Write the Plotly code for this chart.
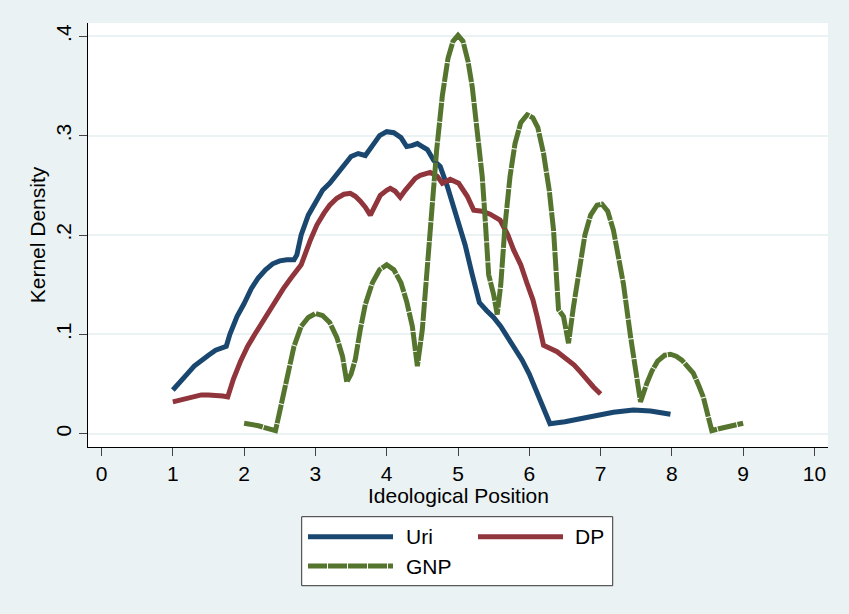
import plotly.graph_objects as go

# ---------------- data ----------------
uri_x = [1.00, 1.10, 1.20, 1.30, 1.40, 1.50, 1.60, 1.70, 1.75, 1.80, 1.90, 2.00, 2.10, 2.20, 2.30,
         2.40, 2.50, 2.60, 2.70, 2.74, 2.80, 2.90, 3.00, 3.10, 3.20, 3.30, 3.40, 3.50, 3.60, 3.70,
         3.80, 3.90, 4.00, 4.10, 4.20, 4.28, 4.35, 4.43, 4.50, 4.57, 4.66, 4.75, 4.85, 4.94, 5.00,
         5.10, 5.20, 5.30, 5.40, 5.50, 5.60, 5.70, 5.80, 5.90, 6.00, 6.10, 6.20, 6.29, 6.50, 6.76,
         6.95, 7.18, 7.46, 7.70, 7.98]
uri_y = [0.044, 0.053, 0.060, 0.068, 0.074, 0.079, 0.084, 0.087, 0.088, 0.100, 0.118, 0.131, 0.146, 0.157, 0.165,
         0.171, 0.174, 0.175, 0.175, 0.180, 0.200, 0.220, 0.233, 0.245, 0.252, 0.261, 0.271, 0.279, 0.282, 0.280,
         0.290, 0.300, 0.304, 0.303, 0.298, 0.289, 0.290, 0.292, 0.289, 0.286, 0.275, 0.269, 0.249, 0.228, 0.215,
         0.190, 0.160, 0.132, 0.124, 0.117, 0.108, 0.097, 0.086, 0.074, 0.060, 0.043, 0.025, 0.010, 0.012, 0.0155,
         0.0188, 0.0215, 0.0239, 0.0229, 0.0195]

dp_x = [1.00, 1.10, 1.20, 1.30, 1.40, 1.50, 1.60, 1.70, 1.77, 1.85, 1.95, 2.05, 2.15, 2.25, 2.35,
        2.45, 2.55, 2.65, 2.74, 2.80, 2.93, 3.02, 3.12, 3.20, 3.30, 3.40, 3.49, 3.56, 3.63, 3.70,
        3.77, 3.84, 3.91, 4.00, 4.05, 4.12, 4.19, 4.26, 4.33, 4.40, 4.47, 4.54, 4.61, 4.71, 4.78,
        4.89, 5.01, 5.13, 5.22, 5.34, 5.45, 5.59, 5.70, 5.78, 5.88, 5.97, 6.05, 6.11, 6.20, 6.39,
        6.50, 6.63, 6.72, 6.81, 6.90, 7.00]
dp_y = [0.032, 0.034, 0.036, 0.038, 0.039, 0.039, 0.039, 0.038, 0.037, 0.055, 0.073, 0.088, 0.100, 0.112, 0.124,
        0.135, 0.146, 0.156, 0.164, 0.170, 0.195, 0.210, 0.222, 0.230, 0.237, 0.241, 0.242, 0.239, 0.234, 0.228,
        0.220, 0.231, 0.240, 0.245, 0.247, 0.244, 0.238, 0.245, 0.252, 0.257, 0.260, 0.262, 0.263, 0.259, 0.252,
        0.256, 0.252, 0.239, 0.225, 0.224, 0.221, 0.215, 0.200, 0.185, 0.170, 0.151, 0.135, 0.118, 0.089, 0.0825,
        0.076, 0.069, 0.062, 0.054, 0.047, 0.040]

gnp_x = [2.00, 2.20, 2.44, 2.52, 2.60, 2.70, 2.80, 2.90, 3.00, 3.10, 3.20, 3.30, 3.38, 3.44, 3.50,
         3.56, 3.63, 3.70, 3.80, 3.90, 4.00, 4.10, 4.20, 4.28, 4.36, 4.43, 4.50, 4.56, 4.62, 4.70,
         4.78, 4.86, 4.93, 5.00, 5.07, 5.14, 5.20, 5.27, 5.34, 5.38, 5.43, 5.50, 5.55, 5.60, 5.66,
         5.73, 5.80, 5.88, 5.97, 6.05, 6.12, 6.20, 6.28, 6.34, 6.41, 6.48, 6.55, 6.62, 6.70, 6.78,
         6.86, 6.95, 7.02, 7.10, 7.18, 7.25, 7.32, 7.42, 7.51, 7.56, 7.65, 7.72, 7.80, 7.90, 7.98,
         8.06, 8.14, 8.22, 8.30, 8.38, 8.44, 8.50, 8.56, 8.66, 8.77, 8.88, 9.00]
gnp_y = [0.0105, 0.008, 0.003, 0.030, 0.058, 0.088, 0.108, 0.117, 0.121, 0.119, 0.112, 0.097, 0.078, 0.052, 0.060,
         0.075, 0.105, 0.130, 0.152, 0.165, 0.170, 0.165, 0.152, 0.133, 0.108, 0.068, 0.105, 0.160, 0.222, 0.285,
         0.340, 0.378, 0.395, 0.401, 0.395, 0.375, 0.349, 0.306, 0.259, 0.217, 0.160, 0.140, 0.120, 0.150, 0.210,
         0.259, 0.292, 0.313, 0.321, 0.318, 0.308, 0.282, 0.245, 0.205, 0.125, 0.118, 0.091, 0.128, 0.168, 0.200,
         0.220, 0.230, 0.231, 0.224, 0.205, 0.178, 0.151, 0.098, 0.051, 0.032, 0.051, 0.063, 0.073, 0.079, 0.080,
         0.078, 0.074, 0.068, 0.061, 0.048, 0.037, 0.020, 0.003, 0.005, 0.007, 0.009, 0.0105]

series_names = ["Uri", "DP", "GNP"]
x_ticks = [0, 1, 2, 3, 4, 5, 6, 7, 8, 9, 10]
y_ticks = [0, 0.1, 0.2, 0.3, 0.4]
y_tick_labels = ["0", ".1", ".2", ".3", ".4"]
x_title = "Ideological Position"
y_title = "Kernel Density"

# ---------------- styling ----------------
W, H = 849, 614
ML, MR, MT, MB = 88, 21, 23, 167
FONT = "Liberation Sans, Arial, sans-serif"
BG = "#EAF2F3"
C_URI, C_DP, C_GNP = "#1A476F", "#90353B", "#55752F"
GNP_DASH = "19px,1px"
LW = 5

fig = go.Figure()
fig.add_trace(go.Scatter(x=uri_x, y=uri_y, mode="lines", name=series_names[0],
                         line=dict(color=C_URI, width=LW)))
fig.add_trace(go.Scatter(x=dp_x, y=dp_y, mode="lines", name=series_names[1],
                         line=dict(color=C_DP, width=LW)))
fig.add_trace(go.Scatter(x=gnp_x, y=gnp_y, mode="lines", name=series_names[2],
                         line=dict(color=C_GNP, width=LW, dash=GNP_DASH)))

pw = W - ML - MR
ph = H - MT - MB


def px_x(p):
    return (p - ML) / pw


def px_y(p):
    return (H - MB - p) / ph


shapes = [
    dict(type="rect", xref="paper", yref="paper",
         x0=px_x(301.7), x1=px_x(612.7), y0=px_y(585.7), y1=px_y(516.7),
         line=dict(color="#333333", width=1), fillcolor="white", layer="above"),
]
annotations = [
    dict(text=x_title, xref="paper", yref="paper", x=0.5, y=px_y(495.5),
         xanchor="center", yanchor="middle", showarrow=False,
         font=dict(family=FONT, size=21, color="black")),
]
legend_items = [
    (series_names[0], C_URI, "solid", 308, 393, 404, 536.7),
    (series_names[1], C_DP, "solid", 478, 563, 573, 536.7),
    (series_names[2], C_GNP, GNP_DASH, 308, 393, 404, 566),
]
for name, col, dash, lx0, lx1, tx, ly in legend_items:
    shapes.append(dict(type="line", xref="paper", yref="paper",
                       x0=px_x(lx0), x1=px_x(lx1), y0=px_y(ly), y1=px_y(ly),
                       line=dict(color=col, width=LW, dash=dash), layer="above"))
    annotations.append(dict(text=name, xref="paper", yref="paper", x=px_x(tx), y=px_y(ly),
                            xanchor="left", yanchor="middle", showarrow=False,
                            font=dict(family=FONT, size=21, color="black")))

fig.update_layout(
    width=W, height=H,
    margin=dict(l=ML, r=MR, t=MT, b=MB, pad=0),
    paper_bgcolor=BG, plot_bgcolor="white",
    showlegend=False,
    font=dict(family=FONT, size=21, color="black"),
    shapes=shapes, annotations=annotations,
    xaxis=dict(range=[-0.19, 10.19], tickvals=x_ticks, showgrid=False, zeroline=False,
               showline=True, linecolor="black", linewidth=1,
               ticks="outside", ticklen=8, tickcolor="#444444", tickwidth=1,
               tickfont=dict(size=21)),
    yaxis=dict(range=[-0.0134, 0.4134], tickvals=y_ticks, ticktext=y_tick_labels,
               showgrid=True, gridcolor=BG, gridwidth=2, zeroline=False,
               showline=True, linecolor="black", linewidth=1,
               ticks="outside", ticklen=8, tickcolor="#444444", tickwidth=1,
               tickangle=-90, tickfont=dict(size=21),
               title=dict(text=y_title, font=dict(size=21), standoff=0)),
)

fig.write_html("out.html")
